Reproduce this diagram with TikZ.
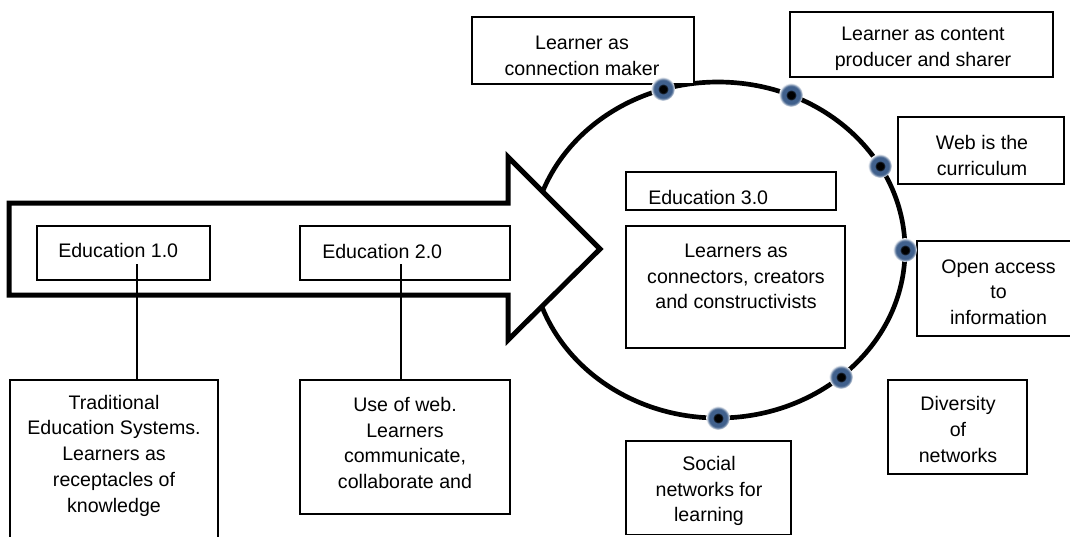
\documentclass[tikz,border=0pt]{standalone}
\usepackage{fontspec}
\setmainfont{Liberation Sans}
\usetikzlibrary{fit}

\definecolor{hubblue}{RGB}{64,96,140}
\pgfdeclareradialshading{hubglow}{\pgfpoint{0bp}{0bp}}{color(0bp)=(black); color(8bp)=(black); color(11bp)=(hubblue); color(19bp)=(hubblue); color(25bp)=(white); color(50bp)=(white)}

\tikzset{
  box/.style={draw, fill=white, line width=1.2pt, inner sep=0pt},
  lbl/.style={inner sep=0.75pt, align=center, font=\fontsize{14.7}{19.3}\selectfont},
  link/.style={line width=1pt},
  hub/.style={circle, shading=hubglow, minimum size=18pt, inner sep=0pt},
}

\begin{document}
\begin{tikzpicture}[x=0.75pt,y=0.75pt,yscale=-1]
\useasboundingbox (0,0) rectangle (1070,536);
\clip (0,0) rectangle (1070,536);

%Ring of education 3.0
\draw [line width=3.5pt] (718,250) ellipse [x radius=187, y radius=168];

%Big arrow
\draw [line width=3.75pt, fill=white, line join=miter] (9,203) -- (508,203) -- (508,157) -- (600,249) -- (508,340) -- (508,295) -- (9,295) -- cycle ;

%Stages on the arrow
\node [box, fit={(37,226) (210,280)}] (ed1) {};
\node [lbl, anchor=west] (ed1t) at (57,250) {Education 1.0};
\node [box, fit={(300,226) (510,280)}] (ed2) {};
\node [lbl, anchor=west] (ed2t) at (321,251) {Education 2.0};

%Notes below the arrow
\node [box, fit={(10,380) (218,548)}] (trad) {};
\node [lbl] (tradt) at (114,455.5) {Traditional\\Education Systems.\\Learners as\\receptacles of\\knowledge};
\node [box, fit={(300,380) (510,514)}] (use) {};
\node [lbl] (uset) at (405,443) {Use of web.\\Learners\\communicate,\\collaborate and};

%Connectors
\coordinate (ed1s) at (137,264);
\coordinate (ed2s) at (401,264);
\draw [link] (ed1s) -- (ed1s |- trad.north);
\draw [link] (ed2s) -- (ed2s |- use.north);

%Inside the ring
\node [box, fit={(626,172) (836,210)}] (ed3) {};
\node [lbl, anchor=west] (ed3t) at (647,197) {Education 3.0};
\node [box, fit={(626,226) (845,348)}] (lrn) {};
\node [lbl] (lrnt) at (736,276.5) {Learners as\\connectors, creators\\and constructivists};

%Around the ring
\node [box, fit={(472,17) (694,84)}] (conn) {};
\node [lbl] (connt) at (582,55.5) {Learner as\\connection maker};
\node [box, fit={(790,12) (1053,77)}] (prod) {};
\node [lbl] (prodt) at (923,48.5) {Learner as content\\producer and sharer};
\node [box, fit={(898,117) (1064,184)}] (curr) {};
\node [lbl] (currt) at (982,155.5) {Web is the\\curriculum};
\node [box, fit={(917,241) (1080,336)}] (open) {};
\node [lbl] (opent) at (998.5,292) {Open access\\to\\information};
\node [box, fit={(888,380) (1027,474)}] (div) {};
\node [lbl] (divt) at (958,429.5) {Diversity\\of\\networks};
\node [box, fit={(626,441) (791,534.5)}] (soc) {};
\node [lbl] (soct) at (709,491) {Social\\networks for\\learning};

%Dots on the ring
\node [hub] (d1) at (663,89) {};
\node [hub] (d2) at (791,95) {};
\node [hub] (d3) at (880,166) {};
\node [hub] (d4) at (905,250) {};
\node [hub] (d5) at (841,377) {};
\node [hub] (d6) at (718,418) {};

\end{tikzpicture}
\end{document}
